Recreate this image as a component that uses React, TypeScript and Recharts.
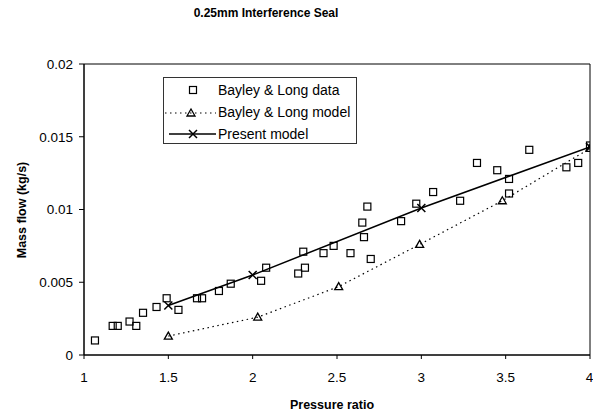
import React from 'react';
import { ComposedChart, XAxis, YAxis, Scatter, Line, ReferenceArea } from 'recharts';

const dataX = [1.065, 1.17, 1.2, 1.27, 1.31, 1.35, 1.43, 1.49, 1.56, 1.67, 1.7, 1.8, 1.87, 2.05, 2.08, 2.27, 2.3, 2.31, 2.42, 2.48, 2.58, 2.65, 2.66, 2.68, 2.7, 2.88, 2.97, 3.07, 3.23, 3.33, 3.45, 3.52, 3.52, 3.64, 3.86, 3.93, 4.0];
const dataY = [0.001, 0.002, 0.002, 0.0023, 0.002, 0.0029, 0.0033, 0.0039, 0.0031, 0.0039, 0.0039, 0.0044, 0.0049, 0.0051, 0.006, 0.0056, 0.0071, 0.006, 0.007, 0.0075, 0.007, 0.0091, 0.0081, 0.0102, 0.0066, 0.0092, 0.0104, 0.0112, 0.0106, 0.0132, 0.0127, 0.0121, 0.0111, 0.0141, 0.0129, 0.0132, 0.0144];

const modelX = [1.5, 2.03, 2.51, 2.99, 3.48, 4.0];
const modelY = [0.0013, 0.0026, 0.0047, 0.0076, 0.0106, 0.0142];

const presentX = [1.5, 2.0, 3.0, 4.0];
const presentY = [0.0034, 0.0055, 0.0101, 0.0143];

const xTicks = [1, 1.5, 2, 2.5, 3, 3.5, 4];
const yTicks = [0, 0.005, 0.01, 0.015, 0.02];

const blData = dataX.map((x, i) => ({ x, y: dataY[i] }));
const blModel = modelX.map((x, i) => ({ x, y: modelY[i] }));
const present = presentX.map((x, i) => ({ x, y: presentY[i] }));

const FONT = 'Liberation Sans, Arial, sans-serif';

const Square = (p: any) => (
  <rect x={p.cx - 3.5} y={p.cy - 3.5} width={7} height={7} fill="none" stroke="#000" strokeWidth={1.2} />
);
const Tri = (p: any) => (
  <path d={`M${p.cx},${p.cy - 4} L${p.cx + 4},${p.cy + 3} L${p.cx - 4},${p.cy + 3} Z`} fill="none" stroke="#000" strokeWidth={1.3} />
);
const Cross = (p: any) => (
  <path d={`M${p.cx - 4},${p.cy - 4} L${p.cx + 4},${p.cy + 4} M${p.cx - 4},${p.cy + 4} L${p.cx + 4},${p.cy - 4}`} stroke="#000" strokeWidth={1.5} />
);

export default function App() {
  return (
    <div style={{ position: 'absolute', left: 0, top: 0, width: 593, height: 416, background: '#fff', fontFamily: FONT }}>
      <div style={{ position: 'absolute', left: 0, width: 532, top: 6, textAlign: 'center', fontSize: 12, fontWeight: 'bold', color: '#000' }}>
        0.25mm Interference Seal
      </div>
      <ComposedChart width={593} height={416} margin={{ top: 64, right: 3, bottom: 11, left: 0 }}>
        <XAxis
          dataKey="x"
          type="number"
          domain={[1, 4]}
          ticks={xTicks}
          allowDataOverflow
          stroke="#000"
          tickSize={4}
          tickMargin={13}
          height={50}
          tick={{ fill: '#000', fontSize: 13.5, fontFamily: FONT }}
        />
        <YAxis
          type="number"
          domain={[0, 0.02]}
          ticks={yTicks}
          stroke="#000"
          width={84}
          tickSize={5}
          tickMargin={6}
          tick={{ fill: '#000', fontSize: 13.5, fontFamily: FONT }}
        />
        <ReferenceArea x1={1} x2={4} y1={0} y2={0.02} fill="none" stroke="#000" strokeWidth={1} ifOverflow="visible" />
        <Line data={blModel} dataKey="y" type="linear" stroke="#000" strokeWidth={1.2} strokeDasharray="1.5 3.5" dot={<Tri />} isAnimationActive={false} />
        <Line data={present} dataKey="y" type="linear" stroke="#000" strokeWidth={1.5} dot={<Cross />} isAnimationActive={false} />
        <Scatter data={blData} dataKey="y" shape={<Square />} isAnimationActive={false} />
      </ComposedChart>
      <div style={{ position: 'absolute', left: 332, top: 398, transform: 'translateX(-50%)', fontSize: 12.5, fontWeight: 'bold', whiteSpace: 'nowrap' }}>
        Pressure ratio
      </div>
      <div style={{ position: 'absolute', left: 22, top: 210, transform: 'translate(-50%, -50%) rotate(-90deg)', fontSize: 12.5, fontWeight: 'bold', whiteSpace: 'nowrap' }}>
        Mass flow (kg/s)
      </div>
      <div style={{ position: 'absolute', left: 163, top: 77, width: 194, height: 67, border: '1px solid #333', background: '#fff', boxSizing: 'border-box' }}>
        <svg width={60} height={67} style={{ position: 'absolute', left: 0, top: 0 }}>
          <rect x={25.5} y={8.5} width={7} height={7} fill="none" stroke="#000" strokeWidth={1.2} />
          <line x1={1} y1={35} x2={52} y2={35} stroke="#000" strokeWidth={1.2} strokeDasharray="1.5 3.5" />
          <path d="M27,31 L31,38 L23,38 Z" fill="none" stroke="#000" strokeWidth={1.3} />
          <line x1={5} y1={56} x2={52} y2={56} stroke="#000" strokeWidth={1.5} />
          <path d="M25,52 L33,60 M25,60 L33,52" stroke="#000" strokeWidth={1.5} />
        </svg>
        <div style={{ position: 'absolute', left: 54, top: 1, fontSize: 14, lineHeight: '22px', whiteSpace: 'nowrap' }}>
          <div>Bayley &amp; Long data</div>
          <div>Bayley &amp; Long model</div>
          <div>Present model</div>
        </div>
      </div>
    </div>
  );
}
